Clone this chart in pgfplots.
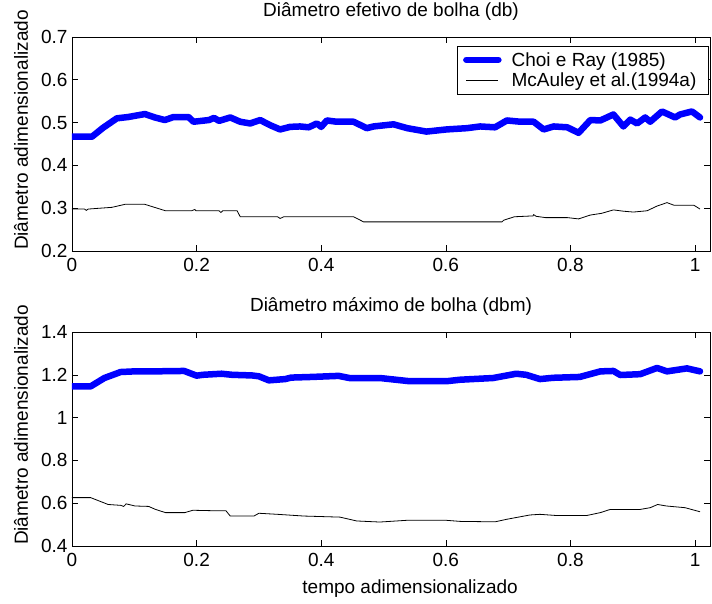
\documentclass[border=0pt]{standalone}
\usepackage{fontspec}
\setmainfont{Liberation Sans}
\usepackage{pgfplots}
\pgfplotsset{compat=1.18}

\newcommand{\figfont}{\fontsize{19}{22}\selectfont}

\pgfplotsset{
  panel/.style={
    scale only axis, width=638pt, height=214pt,
    xmin=0, xmax=1.024,
    xtick={0,0.2,0.4,0.6,0.8,1},
    tick align=inside, major tick length=6pt,
    tick style={black, line width=0.6pt},
    axis line style={line width=0.6pt},
    /pgf/number format/assume math mode=true,
    tick label style={font=\figfont},
    xticklabel style={yshift=-3.5pt},
    yticklabel style={xshift=-1pt},
    label style={font=\figfont},
    title style={font=\figfont, at={(axis description cs:0.5,1.068)}, anchor=base},
    ylabel style={at={(axis description cs:-0.0800,0.565)}, anchor=center, rotate=0},
    ylabel={Diâmetro adimensionalizado},
    legend image code/.code={\draw[##1] (0pt,0pt) -- (32pt,0pt);},
  },
  choi/.style={blue, line width=6.5pt, line join=round, line cap=round},
  mca/.style={black, line width=0.8pt},
}

\begin{document}
\begin{tikzpicture}
\path[use as bounding box] (0pt,0pt) rectangle (712pt,-604pt);

\begin{axis}[panel, at={(72pt,-37pt)}, anchor=north west,
  ymin=0.2, ymax=0.7, ytick={0.2,0.3,0.4,0.5,0.6,0.7},
  title={Diâmetro efetivo de bolha (db)},
  legend style={at={(rel axis cs:0.998,0.958)}, anchor=north east,
    draw=black, line width=0.6pt, font=\figfont,
    inner xsep=6pt, inner ysep=4pt, row sep=1pt,
    nodes={inner xsep=6pt, inner ysep=2pt},
    /tikz/column 1/.style={column sep=4pt},
    cells={anchor=west}},
]
\addplot[choi] coordinates {
(0,0.467) (0.032,0.467) (0.05,0.488) (0.072,0.510) (0.09,0.513) (0.117,0.520)
(0.133,0.512) (0.149,0.506) (0.163,0.513) (0.187,0.513) (0.195,0.502) (0.22,0.506)
(0.228,0.511) (0.236,0.504) (0.254,0.512) (0.27,0.502) (0.286,0.498) (0.302,0.506)
(0.318,0.494) (0.334,0.484) (0.35,0.490) (0.366,0.491) (0.38,0.489) (0.393,0.498)
(0.40,0.490) (0.409,0.505) (0.425,0.502) (0.452,0.502) (0.473,0.487) (0.484,0.491)
(0.516,0.496) (0.538,0.487) (0.569,0.479) (0.601,0.484) (0.634,0.487) (0.655,0.491)
(0.679,0.489) (0.698,0.505) (0.72,0.502) (0.741,0.502) (0.757,0.484) (0.773,0.491)
(0.795,0.489) (0.813,0.476) (0.832,0.506) (0.848,0.505) (0.869,0.519) (0.885,0.491)
(0.896,0.507) (0.907,0.498) (0.92,0.512) (0.928,0.502) (0.947,0.526) (0.968,0.512)
(0.976,0.519) (0.995,0.526) (1.008,0.512)
};
\addlegendentry{Choi e Ray (1985)}
\addplot[mca] coordinates {
(0,0.298) (0.02,0.298) (0.023,0.295) (0.026,0.298) (0.064,0.302) (0.085,0.309)
(0.117,0.309) (0.139,0.299) (0.15,0.294) (0.192,0.294) (0.197,0.297) (0.199,0.294)
(0.236,0.294) (0.239,0.290) (0.242,0.294) (0.265,0.294) (0.27,0.280) (0.33,0.280)
(0.334,0.276) (0.34,0.280) (0.452,0.280) (0.468,0.268) (0.69,0.268) (0.693,0.272)
(0.71,0.280) (0.74,0.282) (0.741,0.285) (0.745,0.281) (0.76,0.278) (0.795,0.278)
(0.813,0.275) (0.832,0.284) (0.85,0.288) (0.869,0.296) (0.885,0.293) (0.901,0.291)
(0.923,0.294) (0.939,0.305) (0.955,0.313) (0.966,0.307) (0.998,0.307) (1.008,0.298)
};
\addlegendentry{McAuley et al.(1994a)}
\end{axis}

\begin{axis}[panel, at={(72pt,-332pt)}, anchor=north west,
  ymin=0.4, ymax=1.4, ytick={0.4,0.6,0.8,1,1.2,1.4},
  title={Diâmetro máximo de bolha (dbm)},
  xlabel={tempo adimensionalizado},
  xlabel style={at={(axis description cs:0.53,-0.222)}, anchor=base},
]
\addplot[choi] coordinates {
(0,1.146) (0.03,1.146) (0.052,1.185) (0.078,1.213) (0.1,1.216) (0.13,1.216)
(0.18,1.218) (0.2,1.196) (0.21,1.2) (0.24,1.205) (0.257,1.2) (0.289,1.197)
(0.3,1.193) (0.316,1.174) (0.342,1.18) (0.352,1.187) (0.385,1.19) (0.428,1.195)
(0.445,1.185) (0.494,1.185) (0.542,1.17) (0.601,1.17) (0.623,1.177) (0.676,1.185)
(0.713,1.205) (0.729,1.2) (0.751,1.18) (0.772,1.186) (0.815,1.19) (0.848,1.216)
(0.869,1.218) (0.88,1.199) (0.912,1.203) (0.939,1.232) (0.955,1.216) (0.987,1.23)
(1.008,1.216)
};
\addplot[mca] coordinates {
(0,0.626) (0.03,0.626) (0.058,0.594) (0.078,0.59) (0.083,0.585) (0.087,0.597)
(0.101,0.587) (0.123,0.585) (0.134,0.571) (0.15,0.556) (0.181,0.556) (0.194,0.567)
(0.225,0.565) (0.247,0.565) (0.254,0.54) (0.292,0.54) (0.3,0.553) (0.33,0.548)
(0.372,0.54) (0.43,0.535) (0.457,0.517) (0.494,0.512) (0.537,0.52) (0.601,0.52)
(0.623,0.515) (0.679,0.513) (0.698,0.525) (0.735,0.545) (0.751,0.548) (0.775,0.543)
(0.827,0.543) (0.848,0.556) (0.864,0.571) (0.912,0.571) (0.928,0.579) (0.94,0.594)
(0.954,0.587) (0.984,0.579) (1.008,0.56)
};
\end{axis}
\end{tikzpicture}
\end{document}
